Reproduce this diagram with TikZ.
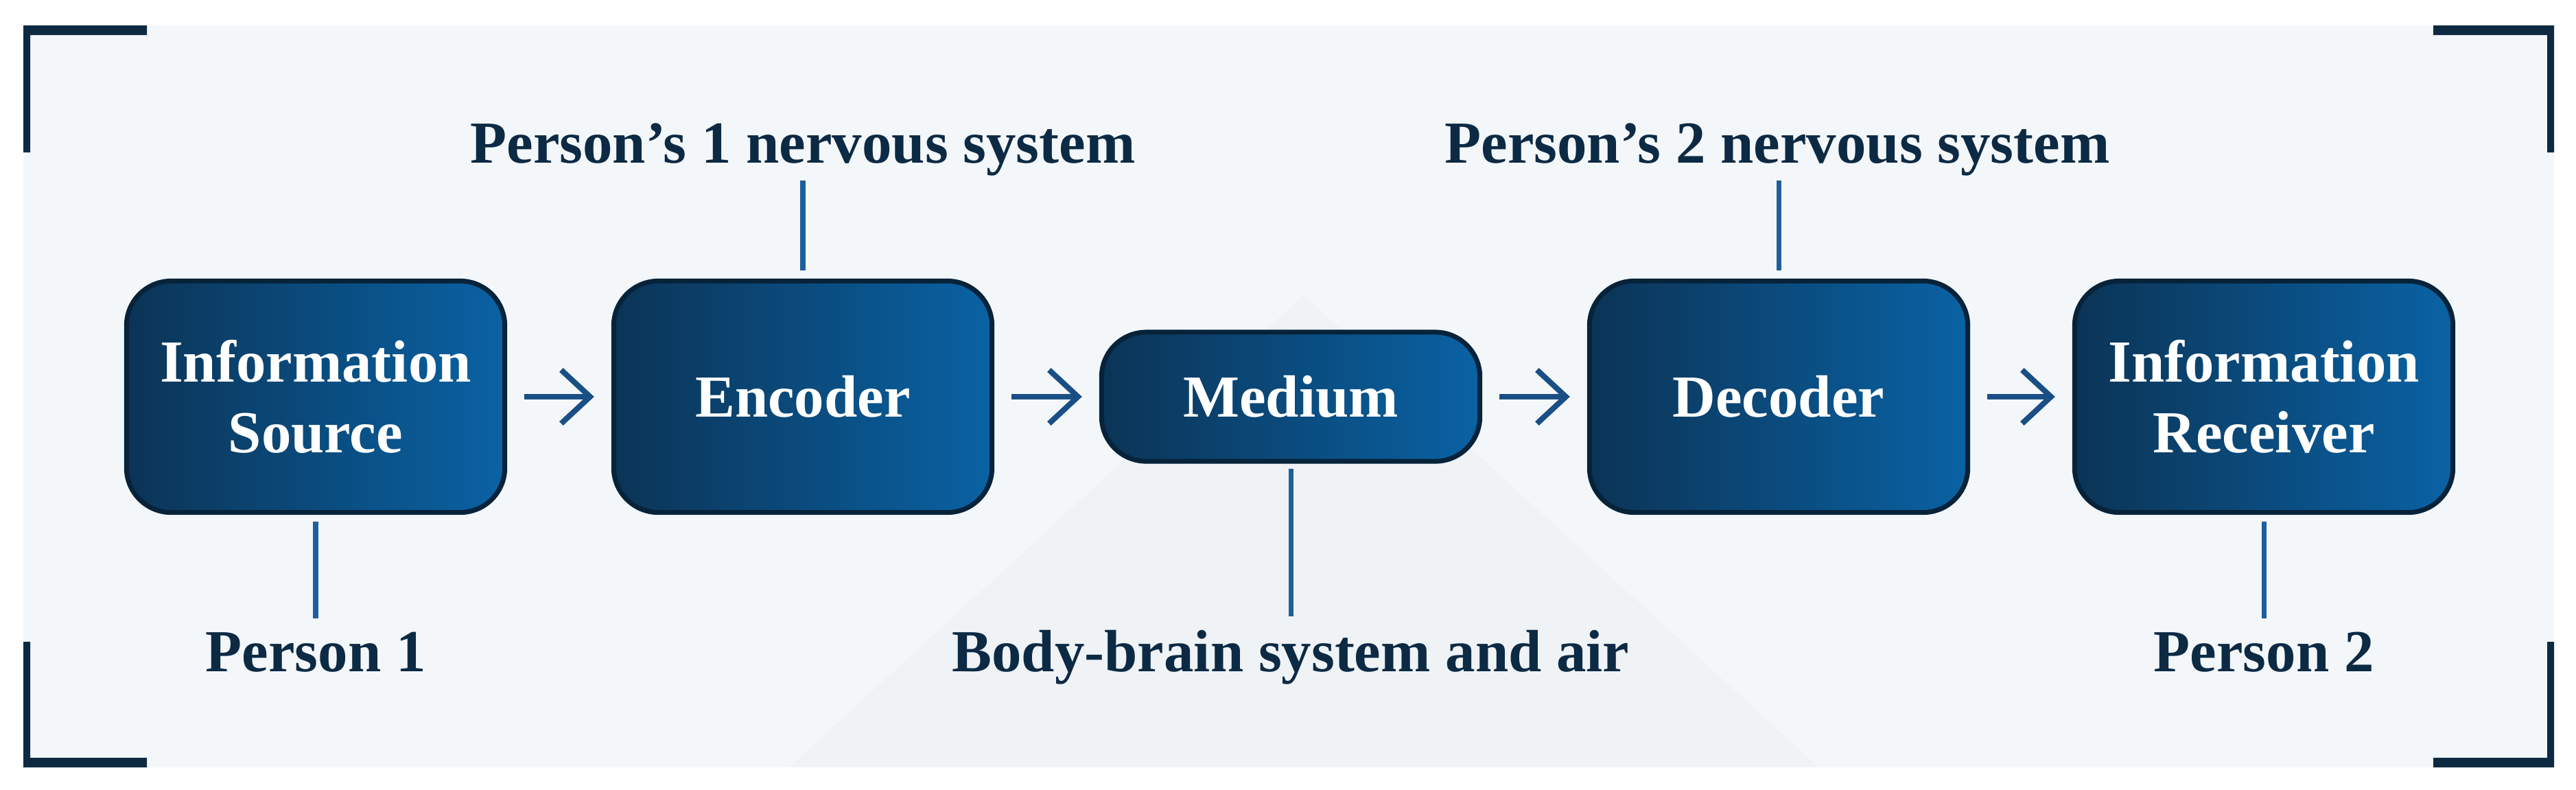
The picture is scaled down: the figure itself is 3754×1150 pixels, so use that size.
\documentclass[tikz,border=0pt]{standalone}
\usepackage{fontspec}
\setmainfont{Liberation Serif}
\usetikzlibrary{arrows.meta}
\definecolor{bgc}{HTML}{F3F7FA}
\definecolor{bgd}{HTML}{EFF3F6}
\definecolor{brk}{HTML}{0E2A42}
\definecolor{boxL}{HTML}{0B3456}
\definecolor{boxR}{HTML}{0A62A4}
\definecolor{boxE}{HTML}{07233A}
\definecolor{arrc}{HTML}{1A4F86}
\definecolor{conc}{HTML}{1F5E9E}
\definecolor{txtc}{HTML}{0D2A44}
\begin{document}
\begin{tikzpicture}[x=0.01cm,y=-0.01cm,
  box/.style={rounded corners=0.65cm, draw=boxE, line width=2pt, left color=boxL, right color=boxR,
    minimum width=5.51cm, minimum height=3.37cm, text=white,
    font=\bfseries\fontsize{24.7}{29.3}\selectfont, align=center, inner sep=0pt},
  lab/.style={text=txtc, font=\bfseries\fontsize{24.7}{29.3}\selectfont, inner sep=0pt, anchor=base},
  arr/.style={draw=arrc, line width=2.3pt, -{Straight Barb[length=0.42cm,width=0.78cm]},
    shorten <=0.25cm, shorten >=0.25cm},
  conn/.style={draw=conc, line width=2pt}]
\useasboundingbox (0,0) rectangle (3754,1150);
\fill[white] (0,0) rectangle (3754,1150);
\fill[bgc] (34,37) rectangle (3722,1118);
\fill[bgd] (1150,1118) -- (1900,430) -- (2650,1118) -- cycle;
% corner brackets
\fill[brk] (34,37) -- (214,37) -- (214,51) -- (44,51) -- (44,222) -- (34,222) -- cycle;
\fill[brk] (3722,37) -- (3546,37) -- (3546,51) -- (3712,51) -- (3712,222) -- (3722,222) -- cycle;
\fill[brk] (34,1118) -- (214,1118) -- (214,1104) -- (44,1104) -- (44,935) -- (34,935) -- cycle;
\fill[brk] (3722,1118) -- (3546,1118) -- (3546,1104) -- (3712,1104) -- (3712,935) -- (3722,935) -- cycle;
% boxes
\node[box] (src) at (460,578) {Information\\Source};
\node[box] (enc) at (1170,578) {Encoder};
\node[box, minimum height=1.88cm] (med) at (1881,578) {Medium};
\node[box] (dec) at (2592,578) {Decoder};
\node[box] (rec) at (3299,578) {Information\\Receiver};
% labels
\node[lab] (p1) at (460,978) {Person 1};
\node[lab] (ns1) at (1170,237) {Person’s 1 nervous system};
\node[lab] (bb) at (1881,978) {Body-brain system and air};
\node[lab] (ns2) at (2590,237) {Person’s 2 nervous system};
\node[lab] (p2) at (3299,978) {Person 2};
% arrows
\draw[arr] (src) -- (enc);
\draw[arr] (enc) -- (med);
\draw[arr] (med) -- (dec);
\draw[arr] (dec) -- (rec);
% connectors
\draw[conn, shorten <=0.1cm, shorten >=0.19cm] (src.south) -- (p1.north);
\draw[conn, shorten <=0.12cm, shorten >=0.07cm] (enc.north) -- (enc.north |- ns1.south);
\draw[conn, shorten <=0.07cm, shorten >=0.19cm] (med.south) -- (bb.north);
\draw[conn, shorten <=0.12cm, shorten >=0.07cm] (dec.north) -- (dec.north |- ns2.south);
\draw[conn, shorten <=0.1cm, shorten >=0.19cm] (rec.south) -- (p2.north);
\end{tikzpicture}
\end{document}
